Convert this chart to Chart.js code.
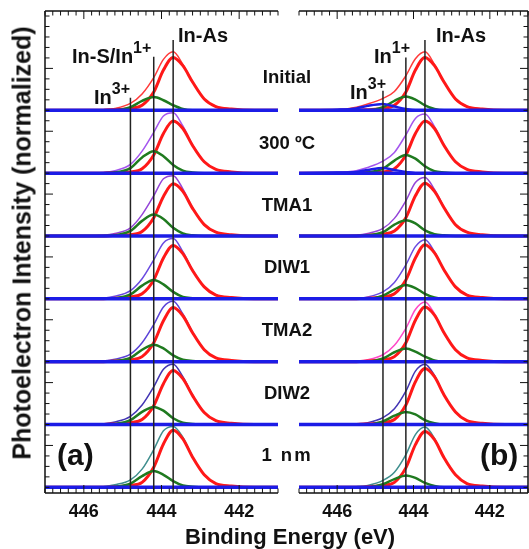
<!DOCTYPE html>
<html>
<head>
<meta charset="utf-8">
<script src="https://cdn.jsdelivr.net/npm/chart.js@4"></script>
<style>
  body { margin: 0; background: #fff; }
  #wrap { position: relative; width: 529px; height: 549px; overflow: hidden; font-family: "Liberation Sans", Arial, sans-serif; font-weight: bold; color: #111; }
  canvas { position: absolute; top: 0; }
  .lbl { position: absolute; white-space: nowrap; line-height: 1; }
  .peak { font-size: 20px; }
  .peak sup { font-size: 16px; position: relative; top: -2px; }
  .cond { font-size: 18.5px; transform: translate(-50%, -50%); }
  .panel { font-size: 30px; transform: translateY(-50%); }
</style>
</head>
<body>
<div id="wrap">
  <canvas id="panelA" width="290" height="549" style="left:0"></canvas>
  <canvas id="panelB" width="239" height="549" style="left:290px"></canvas>

  <div class="lbl" style="left:22px;top:243px;font-size:25px;transform:translate(-50%,-50%) rotate(-90deg)">Photoelectron Intensity (normalized)</div>
  <div class="lbl" style="left:290px;top:537px;font-size:22px;transform:translate(-50%,-50%)">Binding Energy (eV)</div>

  <div class="lbl peak" style="left:178px;top:25px">In-As</div>
  <div class="lbl peak" style="left:72px;top:42px">In-S/In<sup>1+</sup></div>
  <div class="lbl peak" style="left:94px;top:83px">In<sup>3+</sup></div>
  <div class="lbl peak" style="left:436px;top:25px">In-As</div>
  <div class="lbl peak" style="left:374px;top:42px">In<sup>1+</sup></div>
  <div class="lbl peak" style="left:350px;top:78px">In<sup>3+</sup></div>

  <div class="lbl panel" style="left:57px;top:455px">(a)</div>
  <div class="lbl panel" style="left:480px;top:455px">(b)</div>
  <div id="conds"></div>
</div>
<script>
// binding energy grid shared by every fitted curve (eV)
const energy = [447, 446, 445.5, 445.2, 444.8, 444.5, 444.2, 443.95, 443.7, 443.45, 443.2, 442.9, 442.6, 442.2, 441.6, 441];

const conditions = ['Initial', '300 \u00baC', 'TMA1', 'DIW1', 'TMA2', 'DIW2', '1 nm'];
const condLabelY = [77, 143, 205, 267, 330, 393, 455];

const xTicks = [446, 444, 442];
const peakLines = [444.8, 444.2, 443.7];
const peakLineTopA = [6.2, 6.85, 7.12];
const peakLineTopB = [6.31, 6.84, 7.12];

// panel (a): In-As, In-S/In1+ and total fit, top spectrum first
const inAsA = [
  [0,0,0,0.01,0.03,0.08,0.29,0.64,0.84,0.71,0.45,0.18,0.06,0.02,0,0],
  [0,0,0,0.01,0.02,0.07,0.29,0.63,0.83,0.71,0.44,0.18,0.06,0.02,0,0],
  [0,0,0,0.01,0.02,0.07,0.29,0.63,0.83,0.71,0.44,0.18,0.06,0.02,0,0],
  [0,0,0,0.01,0.03,0.08,0.30,0.65,0.85,0.72,0.45,0.19,0.06,0.02,0,0],
  [0,0,0,0.01,0.03,0.08,0.30,0.65,0.86,0.73,0.46,0.19,0.06,0.02,0,0],
  [0,0,0,0.01,0.03,0.08,0.30,0.65,0.86,0.73,0.46,0.19,0.06,0.02,0,0],
  [0,0,0,0.01,0.03,0.08,0.32,0.69,0.91,0.77,0.48,0.20,0.06,0.02,0,0]
];
const inSA = [
  [0,0,0,0,0.05,0.15,0.21,0.16,0.08,0.02,0,0,0,0,0,0],
  [0,0,0,0.01,0.08,0.25,0.35,0.27,0.13,0.04,0.01,0,0,0,0,0],
  [0,0,0,0.01,0.08,0.24,0.34,0.27,0.13,0.04,0.01,0,0,0,0,0],
  [0,0,0,0.01,0.07,0.21,0.30,0.23,0.11,0.03,0.01,0,0,0,0,0],
  [0,0,0,0.01,0.06,0.19,0.27,0.21,0.10,0.03,0.01,0,0,0,0,0],
  [0,0,0,0.01,0.07,0.20,0.28,0.22,0.10,0.03,0.01,0,0,0,0,0],
  [0,0,0,0.01,0.06,0.18,0.26,0.20,0.10,0.03,0.01,0,0,0,0,0]
];
const fitA = [
  [0,0,0.01,0.03,0.11,0.26,0.52,0.81,0.93,0.73,0.45,0.18,0.06,0.02,0,0],
  [0,0,0.01,0.04,0.14,0.35,0.65,0.91,0.96,0.75,0.45,0.18,0.06,0.02,0,0],
  [0,0,0.01,0.04,0.13,0.34,0.64,0.91,0.96,0.75,0.45,0.18,0.06,0.02,0,0],
  [0,0,0.01,0.04,0.13,0.32,0.62,0.89,0.96,0.75,0.46,0.19,0.06,0.02,0,0],
  [0,0,0.01,0.04,0.12,0.30,0.59,0.87,0.96,0.76,0.47,0.19,0.06,0.02,0,0],
  [0,0,0.01,0.04,0.13,0.31,0.60,0.88,0.96,0.76,0.47,0.19,0.06,0.02,0,0],
  [0,0,0.01,0.04,0.12,0.29,0.60,0.90,0.97,0.80,0.49,0.20,0.06,0.02,0,0]
];
const fitColorsA = ['#ff3a3a', '#a455ee', '#9444d8', '#6a4ae0', '#5a42d8', '#4234b4', '#3f8e8e'];

// panel (b): In-As, In1+, In3+ and total fit
const inAsB = [
  [0,0,0,0.01,0.03,0.08,0.29,0.64,0.84,0.71,0.45,0.18,0.06,0.02,0,0],
  [0,0,0,0.01,0.02,0.07,0.29,0.63,0.83,0.71,0.44,0.18,0.06,0.02,0,0],
  [0,0,0,0.01,0.03,0.08,0.29,0.64,0.84,0.71,0.45,0.18,0.06,0.02,0,0],
  [0,0,0,0.01,0.03,0.08,0.30,0.65,0.86,0.73,0.46,0.19,0.06,0.02,0,0],
  [0,0,0,0.01,0.03,0.08,0.30,0.66,0.87,0.74,0.46,0.19,0.06,0.02,0,0],
  [0,0,0,0.01,0.03,0.08,0.31,0.68,0.89,0.76,0.47,0.20,0.06,0.02,0,0],
  [0,0,0,0.01,0.03,0.08,0.31,0.68,0.89,0.76,0.47,0.20,0.06,0.02,0,0]
];
const in1B = [
  [0,0,0,0,0.05,0.15,0.22,0.17,0.08,0.02,0,0,0,0,0,0],
  [0,0,0,0.01,0.07,0.20,0.29,0.23,0.11,0.03,0.01,0,0,0,0,0],
  [0,0,0,0.01,0.06,0.18,0.25,0.20,0.09,0.03,0.01,0,0,0,0,0],
  [0,0,0,0,0.05,0.15,0.22,0.17,0.08,0.02,0,0,0,0,0,0],
  [0,0,0,0,0.05,0.15,0.21,0.16,0.08,0.02,0,0,0,0,0,0],
  [0,0,0,0,0.05,0.14,0.20,0.16,0.07,0.02,0,0,0,0,0,0],
  [0,0,0,0,0.05,0.13,0.19,0.15,0.07,0.02,0,0,0,0,0,0]
];
const in3B = [
  [0,0.01,0.03,0.07,0.10,0.06,0.02,0,0,0,0,0,0,0,0,0],
  [0,0.01,0.02,0.05,0.08,0.05,0.02,0,0,0,0,0,0,0,0,0]
];
const fitB = [
  [0,0.01,0.05,0.10,0.19,0.30,0.55,0.82,0.93,0.73,0.45,0.18,0.06,0.02,0,0],
  [0,0.01,0.04,0.09,0.19,0.33,0.61,0.87,0.94,0.74,0.45,0.18,0.06,0.02,0,0],
  [0,0,0.01,0.04,0.12,0.28,0.56,0.85,0.93,0.74,0.46,0.18,0.06,0.02,0,0],
  [0,0,0.01,0.03,0.11,0.26,0.54,0.83,0.94,0.75,0.46,0.19,0.06,0.02,0,0],
  [0,0,0.01,0.03,0.11,0.26,0.53,0.83,0.95,0.76,0.46,0.19,0.06,0.02,0,0],
  [0,0,0.01,0.03,0.11,0.25,0.53,0.85,0.96,0.78,0.47,0.20,0.06,0.02,0,0],
  [0,0,0.01,0.03,0.11,0.24,0.52,0.84,0.96,0.78,0.47,0.20,0.06,0.02,0,0]
];
const fitColorsB = ['#ff3a3a', '#a455ee', '#9444d8', '#6a4ae0', '#ff48c8', '#4234b4', '#3f8e8e'];

const Y_MIN = -0.09, Y_MAX = 7.58;
const BLUE = '#1c1ce6', RED = '#ff1818', GREEN = '#1f7a1f';

function curve(vals, offset) {
  return energy.map((e, i) => ({ x: e, y: offset + vals[i] }));
}

function line(data, color, width, order, smooth) {
  return {
    data, borderColor: color, borderWidth: width, order,
    pointRadius: 0, fill: false,
    cubicInterpolationMode: smooth ? 'monotone' : 'default', tension: 0
  };
}

function buildDatasets(inAs, inS, fit, fitColors, in3, tops) {
  const sets = [];
  conditions.forEach((c, i) => {
    const off = conditions.length - 1 - i;
    sets.push(line(curve(fit[i], off), fitColors[i], 1.5, 5, true));
    sets.push(line(curve(inAs[i], off), RED, 3, 4, true));
    sets.push(line(curve(inS[i], off), GREEN, 2.5, 3, true));
    if (in3 && in3[i]) sets.push(line(curve(in3[i], off), BLUE, 2.5, 2, true));
    sets.push(line([{ x: 447, y: off }, { x: 441, y: off }], BLUE, 3.5, 1, false));
  });
  peakLines.forEach((e, k) => {
    sets.push(line([{ x: e, y: Y_MIN }, { x: e, y: tops[k] }], '#222', 1.5, 0, false));
  });
  return sets;
}

// box edges and inward tick marks
function framePlugin(side) {
  return {
    id: 'frame',
    afterDatasetsDraw(chart) {
      const { ctx, chartArea: a, scales } = chart;
      ctx.save();
      ctx.strokeStyle = '#111';
      ctx.lineWidth = 1.5;
      ctx.beginPath();
      ctx.moveTo(a.left, a.top); ctx.lineTo(a.right, a.top);
      ctx.moveTo(a.left, a.bottom); ctx.lineTo(a.right, a.bottom);
      const ex = side === 'left' ? a.left : a.right;
      ctx.moveTo(ex, a.top); ctx.lineTo(ex, a.bottom);
      ctx.stroke();
      ctx.lineWidth = 1;
      ctx.beginPath();
      for (let k = 0; k <= 30; k++) {
        const px = scales.x.getPixelForValue(441 + k * 0.2);
        const len = k % 10 === 5 ? 8 : 4.5;
        ctx.moveTo(px, a.top); ctx.lineTo(px, a.top + len);
        ctx.moveTo(px, a.bottom); ctx.lineTo(px, a.bottom - len);
      }
      const dir = side === 'left' ? 1 : -1;
      for (let k = 0; k / 6 <= Y_MAX; k++) {
        const py = scales.y.getPixelForValue(k / 6);
        const len = k % 6 === 4 ? 8 : 4.5;
        ctx.moveTo(ex, py); ctx.lineTo(ex + dir * len, py);
      }
      ctx.stroke();
      ctx.restore();
    }
  };
}

function makeChart(id, datasets, side, padding) {
  return new Chart(document.getElementById(id), {
    type: 'line',
    data: { datasets },
    options: {
      responsive: false,
      animation: false,
      layout: { padding },
      plugins: { legend: { display: false }, tooltip: { enabled: false } },
      scales: {
        x: {
          type: 'linear', reverse: true, min: 441, max: 447,
          grid: { display: false, drawTicks: false },
          border: { display: false },
          ticks: { color: '#111', padding: 8, font: { family: 'Liberation Sans', size: 18, weight: 'bold' } },
          afterBuildTicks: s => { s.ticks = xTicks.map(v => ({ value: v })); },
          afterFit: s => { s.height = 56; }
        },
        y: { type: 'linear', display: false, min: Y_MIN, max: Y_MAX }
      }
    },
    plugins: [framePlugin(side)]
  });
}

makeChart('panelA', buildDatasets(inAsA, inSA, fitA, fitColorsA, null, peakLineTopA), 'left',
  { left: 45, right: 12, top: 11, bottom: 0 });
makeChart('panelB', buildDatasets(inAsB, in1B, fitB, fitColorsB, in3B, peakLineTopB), 'right',
  { left: 9, right: 1, top: 11, bottom: 0 });

// sample treatment labels between the two panels
const condBox = document.getElementById('conds');
conditions.forEach((c, i) => {
  const d = document.createElement('div');
  d.className = 'lbl cond';
  d.style.left = '287px';
  d.style.top = condLabelY[i] + 'px';
  if (c === '1 nm') d.style.letterSpacing = '2px';
  d.textContent = c;
  condBox.appendChild(d);
});
</script>
</body>
</html>
